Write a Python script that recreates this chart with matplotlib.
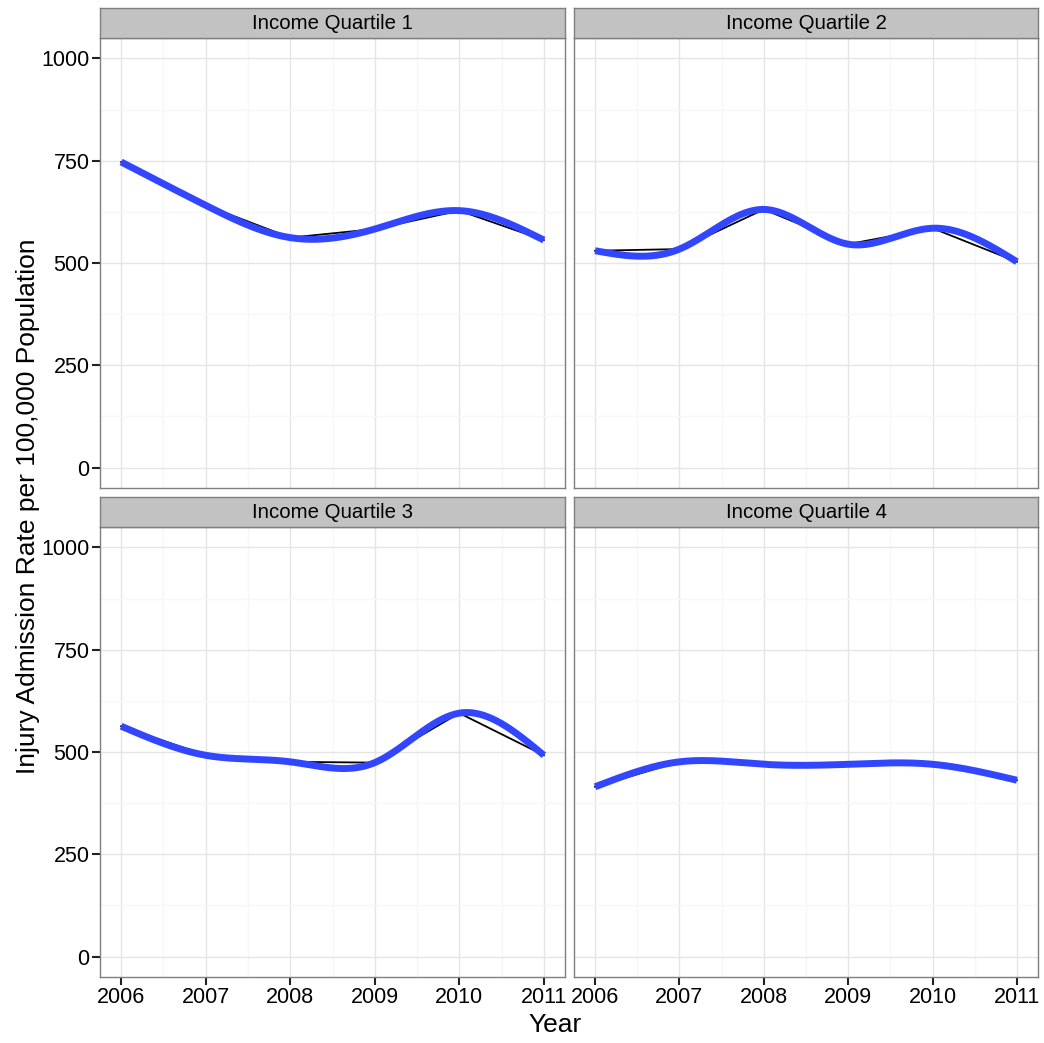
import numpy as np
import matplotlib
matplotlib.use("Agg")
import matplotlib.pyplot as plt

plt.rcParams['font.family'] = ['Liberation Sans', 'DejaVu Sans']

years = [2006, 2007, 2008, 2009, 2010, 2011]
panel_titles = ["Income Quartile 1", "Income Quartile 2", "Income Quartile 3", "Income Quartile 4"]
q1 = [747, 641, 562, 583, 628, 556]
q2 = [530, 534, 631, 546, 585, 503]
q3 = [563, 492, 476, 474, 595, 492]
q4 = [415, 476, 470, 470, 470, 431]
series = [q1, q2, q3, q4]
y_ticks = [0, 250, 500, 750, 1000]
x_ticks = years


def natural_spline(x, y, xs):
    x = np.asarray(x, float); y = np.asarray(y, float)
    n = len(x)
    h = np.diff(x)
    A = np.zeros((n, n)); b = np.zeros(n)
    A[0, 0] = 1; A[-1, -1] = 1
    for i in range(1, n - 1):
        A[i, i - 1] = h[i - 1]
        A[i, i] = 2 * (h[i - 1] + h[i])
        A[i, i + 1] = h[i]
        b[i] = 3 * ((y[i + 1] - y[i]) / h[i] - (y[i] - y[i - 1]) / h[i - 1])
    c = np.linalg.solve(A, b)
    out = np.empty_like(xs)
    for k, xv in enumerate(xs):
        i = min(np.searchsorted(x, xv, side='right') - 1, n - 2)
        i = max(i, 0)
        bi = (y[i + 1] - y[i]) / h[i] - h[i] * (2 * c[i] + c[i + 1]) / 3
        di = (c[i + 1] - c[i]) / (3 * h[i])
        dx = xv - x[i]
        out[k] = y[i] + bi * dx + c[i] * dx ** 2 + di * dx ** 3
    return out


W, H = 1044, 1043
fig = plt.figure(figsize=(W / 100, H / 100), dpi=100)

cols = [(100, 565), (574, 1038)]
rows = [(8, 38, 488), (497, 527, 977)]  # strip top, panel top, panel bottom

for idx in range(4):
    r, c = divmod(idx, 2)
    x0, x1 = cols[c]
    st, pt, pb = rows[r]
    ax = fig.add_axes([x0 / W, 1 - pb / H, (x1 - x0) / W, (pb - pt) / H])
    sax = fig.add_axes([x0 / W, 1 - pt / H, (x1 - x0) / W, (pt - st) / H])
    sax.set_facecolor('#C2C2C2')
    sax.set_xticks([]); sax.set_yticks([])
    for s in sax.spines.values():
        s.set_color('#7F7F7F'); s.set_linewidth(1.0)
    sax.text(0.5, 0.47, panel_titles[idx], ha='center', va='center', fontsize=14.7, transform=sax.transAxes)

    ax.set_xlim(2005.75, 2011.25)
    ax.set_ylim(-50, 1050)
    ax.set_xticks(x_ticks)
    ax.set_yticks(y_ticks)
    ax.set_xticks([2006.5, 2007.5, 2008.5, 2009.5, 2010.5], minor=True)
    ax.set_yticks([125, 375, 625, 875], minor=True)
    ax.grid(True, which='major', color='#E5E5E5', linewidth=1.0)
    ax.grid(True, which='minor', color='#F7F7F7', linewidth=1.0)
    ax.set_axisbelow(True)
    for s in ax.spines.values():
        s.set_color('#7F7F7F'); s.set_linewidth(1.0)
    ax.tick_params(which='minor', length=0)
    ax.tick_params(which='major', length=6, width=1.5, color='#222222', labelsize=15.5, pad=1.5)
    if c == 1:
        ax.tick_params(axis='y', labelleft=False, length=0)
    if r == 0:
        ax.tick_params(axis='x', labelbottom=False, length=0)
    ax.set_xticklabels([str(v) for v in x_ticks])

    ax.plot(years, series[idx], color='black', linewidth=1.3, zorder=3)
    xs = np.linspace(years[0], years[-1], 200)
    ax.plot(xs, natural_spline(years, series[idx], xs), color='#3346FF', linewidth=5, zorder=4,
            solid_capstyle='butt')

fig.text(555 / W, 1 - 1025 / H, 'Year', ha='center', va='center', fontsize=19)
fig.text(28 / W, 1 - 506 / H, 'Injury Admission Rate per 100,000 Population', ha='center', va='center',
         rotation=90, fontsize=19)

fig.savefig('out.png', dpi=100)
